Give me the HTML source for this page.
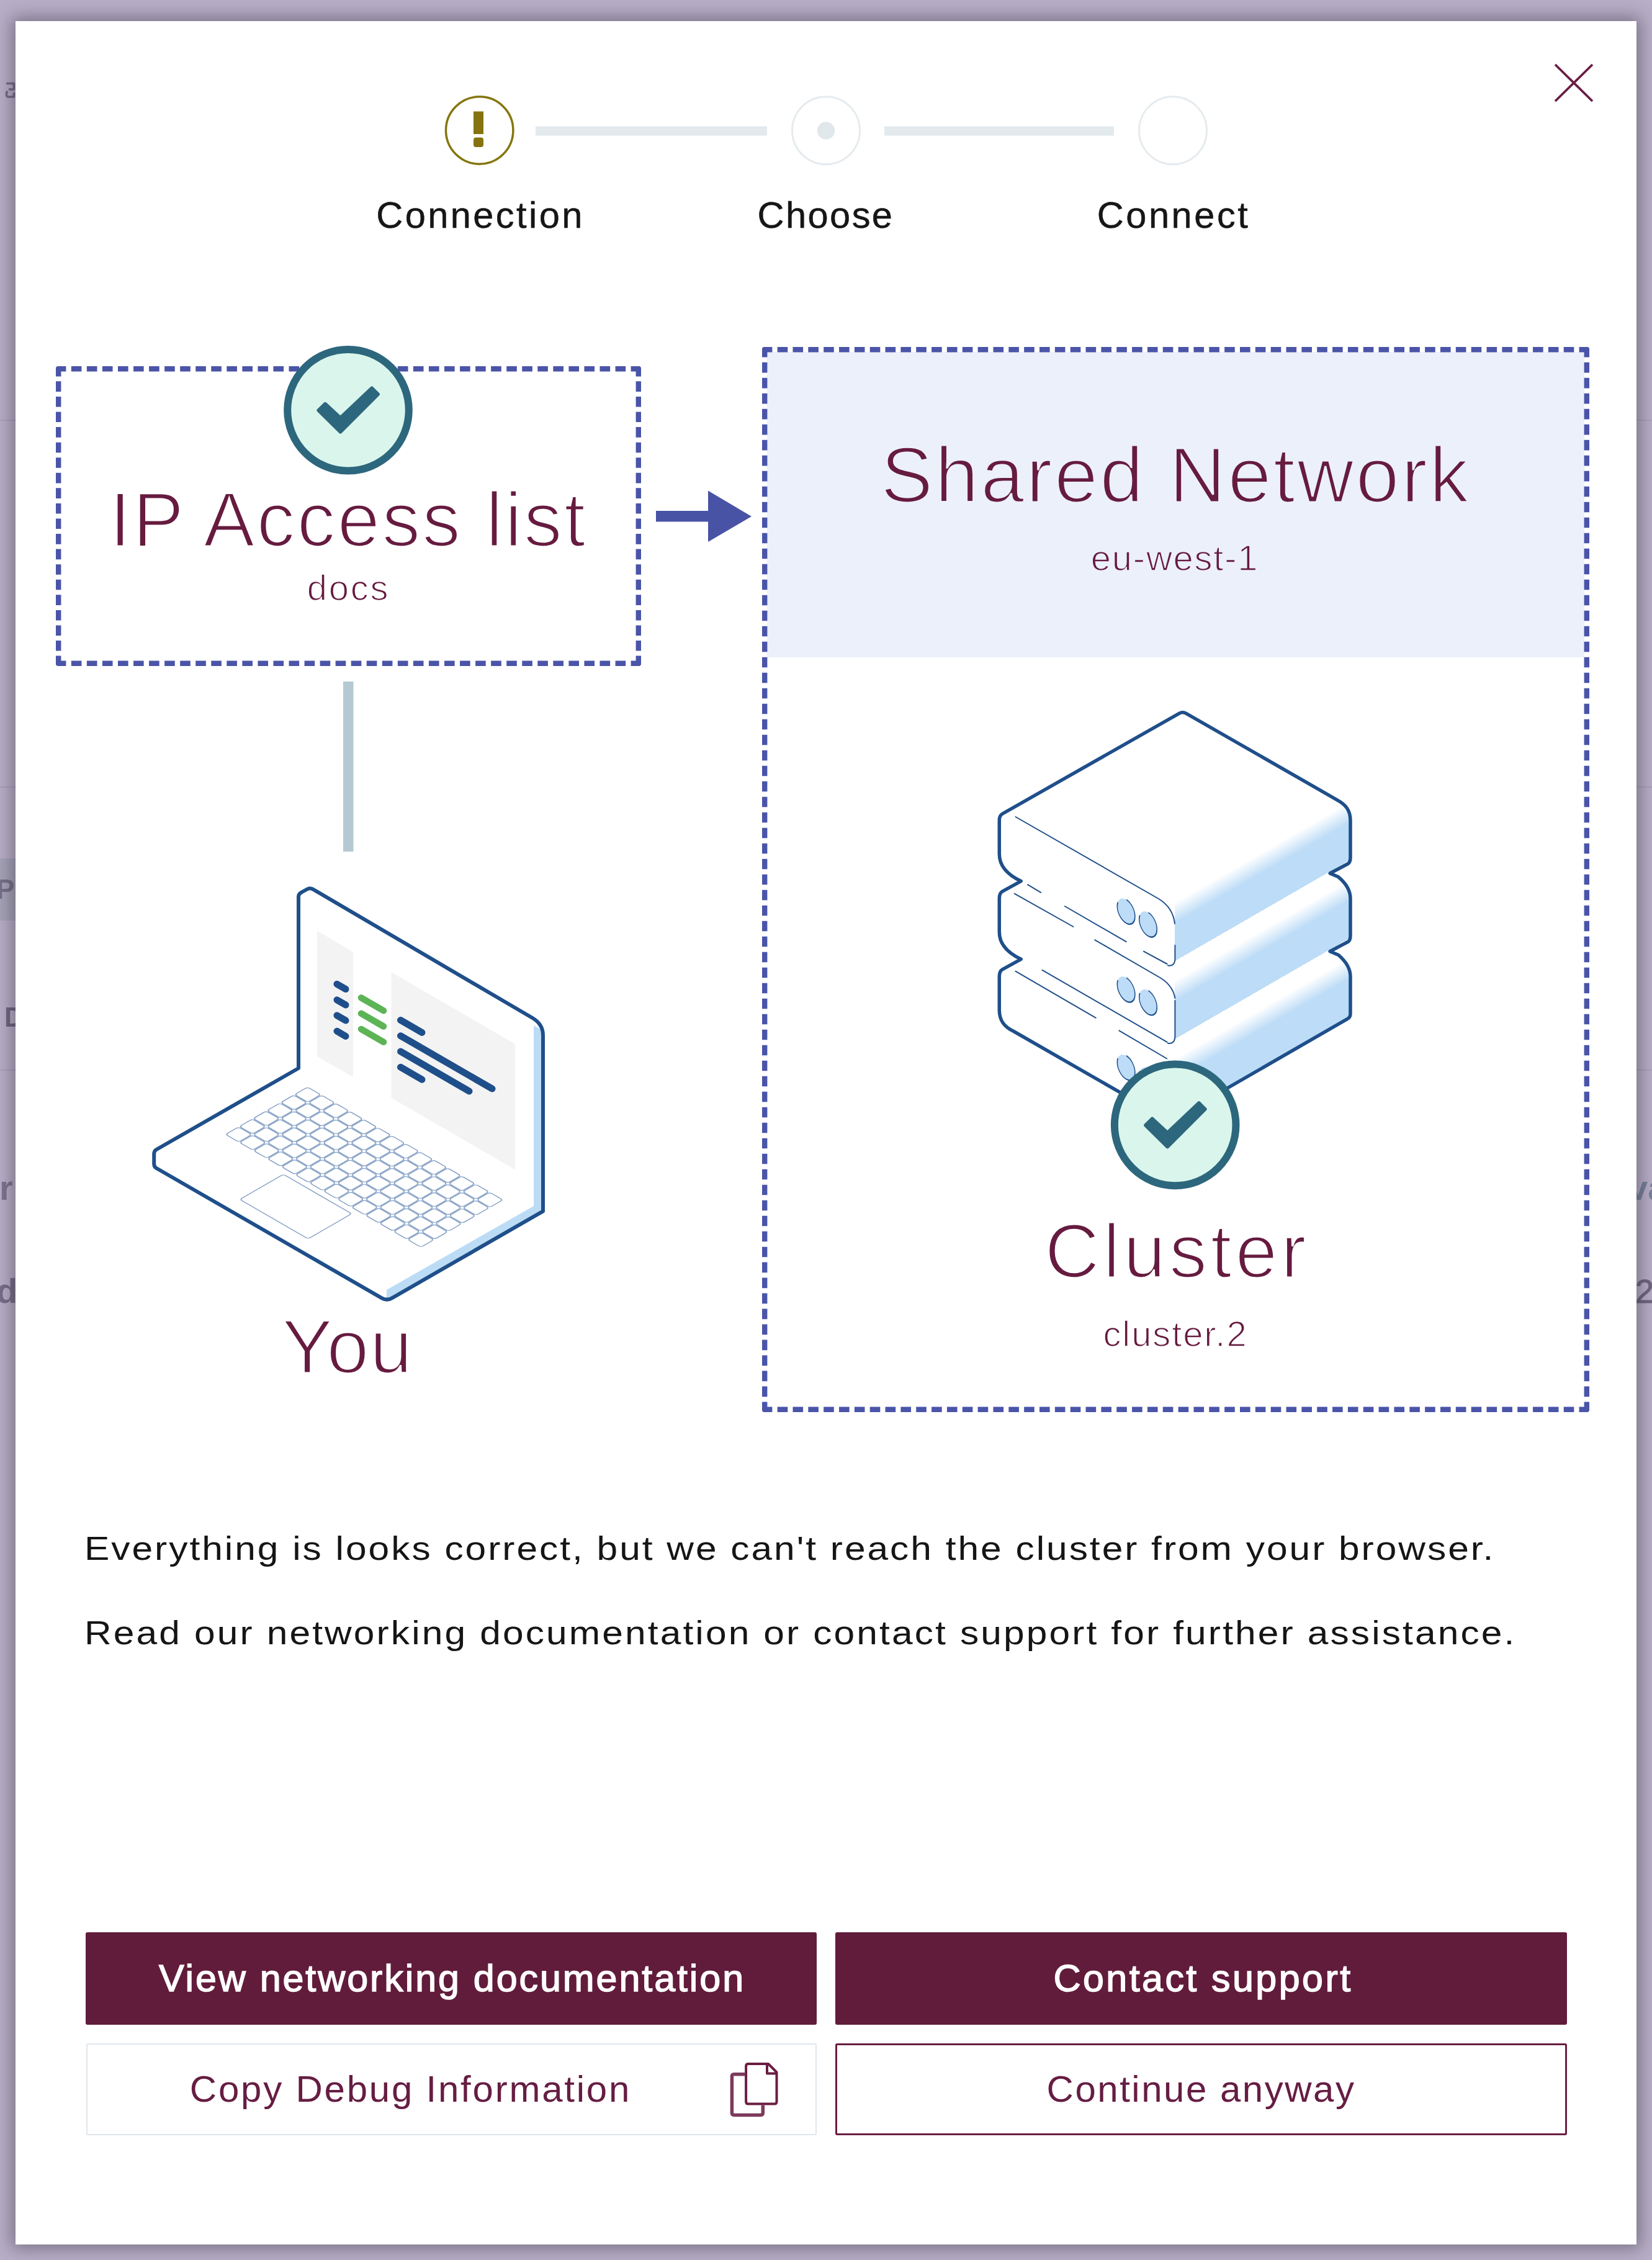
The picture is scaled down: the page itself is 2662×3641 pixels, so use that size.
<!DOCTYPE html>
<html><head><meta charset="utf-8"><style>
html,body{margin:0;padding:0;}
body{width:2662px;height:3641px;overflow:hidden;position:relative;background:#b8aec7;font-family:"Liberation Sans",sans-serif;}
.modal{position:absolute;left:25px;top:34px;width:2612px;height:3582px;background:#fff;box-shadow:0 0 26px 6px rgba(35,32,40,0.42);}
.t{position:absolute;white-space:nowrap;line-height:1;}
.c{transform:translateX(-50%);}
.step{font-size:59.6px;color:#161616;letter-spacing:2.4px;-webkit-text-stroke:0.5px #161616;}
.mar{color:#661b3f;}
.para{font-size:54px;color:#151515;letter-spacing:2.5px;left:136px;transform-origin:0 0;transform:scaleX(1.12);}
.btn{position:absolute;box-sizing:border-box;border-radius:3px;}
.bt{font-size:61px;font-weight:400;color:#fff;letter-spacing:0.2px;-webkit-text-stroke:1.5px #fff;}
.bt2{font-size:60px;color:#661d42;letter-spacing:2.2px;}
svg{position:absolute;left:0;top:0;}
</style></head><body>
<div style="position:absolute;left:0;top:1383px;width:30px;height:100px;background:#a6a3b8"></div>
<div style="position:absolute;left:0;top:676px;width:30px;height:2px;background:#aaa1b8"></div>
<div style="position:absolute;left:0;top:1267px;width:30px;height:2px;background:#aaa1b8"></div>
<div style="position:absolute;left:0;top:1723px;width:30px;height:2px;background:#aaa1b8"></div>
<div style="position:absolute;left:2630px;top:676px;width:32px;height:2px;background:#aaa1b8"></div>
<div style="position:absolute;left:2630px;top:1267px;width:32px;height:2px;background:#aaa1b8"></div>
<div style="position:absolute;left:2630px;top:1723px;width:32px;height:2px;background:#aaa1b8"></div>
<svg width="30" height="40" viewBox="0 120 30 40" style="position:absolute;left:0;top:120px"><path d="M10 134.5 L22.5 134.5 L22.5 145 M14 144 L22.5 144 M12.5 147 L10.5 149 L10.5 154 L12 156 L22.5 156 L22.5 149" fill="none" stroke="#756c86" stroke-width="3.6" stroke-linejoin="round" style="filter:blur(0.7px)"/></svg>
<div class="t" style="left:-6px;top:1411px;font-size:44px;font-weight:700;color:#77708a;filter:blur(0.6px)">P</div>
<div class="t" style="left:7px;top:1617px;font-size:44px;font-weight:700;color:#6f6680;filter:blur(0.6px)">D</div>
<div class="t" style="left:-1px;top:1886px;font-size:56px;font-weight:700;color:#7d7490;filter:blur(0.7px)">r</div>
<div class="t" style="left:-6px;top:2052px;font-size:56px;font-weight:700;color:#776e89;filter:blur(0.7px)">d</div>
<div class="t" style="left:2624px;top:1886px;font-size:56px;font-weight:700;color:#78809c;filter:blur(0.7px)">va</div>
<div class="t" style="left:2635px;top:2053px;font-size:54px;color:#6f6680;filter:blur(0.5px);-webkit-text-stroke:1px #6f6680">2</div>
<div class="modal"></div>
<svg width="2662" height="3641" viewBox="0 0 2662 3641">
  <defs>
    <linearGradient id="srvg" gradientUnits="userSpaceOnUse" x1="0" y1="1.6" x2="0" y2="127.3" spreadMethod="repeat" gradientTransform="skewY(-30)">
      <stop offset="0" stop-color="#ffffff"/>
      <stop offset="0.25" stop-color="#ffffff"/>
      <stop offset="0.52" stop-color="#bddcf7"/>
      <stop offset="1" stop-color="#bddcf7"/>
    </linearGradient>
  </defs>
  <!-- close X -->
  <path d="M2506 104 L2566 163 M2566 104 L2506 163" stroke="#6a1d42" stroke-width="3.8" fill="none"/>
  <!-- stepper -->
  <line x1="863" y1="211" x2="1236" y2="211" stroke="#e3eaee" stroke-width="15"/>
  <line x1="1425" y1="211" x2="1795" y2="211" stroke="#e3eaee" stroke-width="15"/>
  <circle cx="772.7" cy="210" r="54.2" fill="#fff" stroke="#86760f" stroke-width="3.5"/>
  <rect x="763" y="179.5" width="16" height="36.5" fill="#85730f"/>
  <rect x="763" y="221.5" width="16" height="15.5" rx="4" fill="#85730f"/>
  <circle cx="1331" cy="210.3" r="54.5" fill="#fff" stroke="#e5ebee" stroke-width="3"/>
  <circle cx="1331" cy="210.5" r="14.3" fill="#e1e8ec"/>
  <circle cx="1890" cy="210.3" r="54.5" fill="#fff" stroke="#e5ebee" stroke-width="3"/>

  <!-- left box -->
  <g fill="none" stroke="#4a54a8" stroke-width="8.4">
    <path d="M90.0 594.2 L1033.0 594.2" stroke-dasharray="16.6 8.449" stroke-dashoffset="0.20"/>
    <path d="M90.0 1068.8 L1033.0 1068.8" stroke-dasharray="16.6 8.449" stroke-dashoffset="0.20"/>
    <path d="M94.2 590.0 L94.2 1073.0" stroke-dasharray="16.6 7.968" stroke-dashoffset="0.20"/>
    <path d="M1028.8 590.0 L1028.8 1073.0" stroke-dasharray="16.6 7.968" stroke-dashoffset="0.20"/>
  </g>
  <!-- right box -->
  <rect x="1236" y="567" width="1317" height="492" fill="#ecf0fb"/>
  <g fill="none" stroke="#4a54a8" stroke-width="8.4">
    <path d="M1228.0 563.2 L2561.0 563.2" stroke-dasharray="16.6 8.245" stroke-dashoffset="0.20"/>
    <path d="M1228.0 2270.8 L2561.0 2270.8" stroke-dasharray="16.6 8.245" stroke-dashoffset="0.20"/>
    <path d="M1232.2 559.0 L1232.2 2275.0" stroke-dasharray="16.6 8.397" stroke-dashoffset="0.20"/>
    <path d="M2556.8 559.0 L2556.8 2275.0" stroke-dasharray="16.6 8.397" stroke-dashoffset="0.20"/>
  </g>
  <path d="M89.5 589.5 L94.5 589.5 A5 5 0 0 0 89.5 594.5 Z M1033.5 589.5 L1033.5 594.5 A5 5 0 0 0 1028.5 589.5 Z M1033.5 1073.5 L1028.5 1073.5 A5 5 0 0 0 1033.5 1068.5 Z M89.5 1073.5 L89.5 1068.5 A5 5 0 0 0 94.5 1073.5 Z M1227.5 558.5 L1232.5 558.5 A5 5 0 0 0 1227.5 563.5 Z M2561.5 558.5 L2561.5 563.5 A5 5 0 0 0 2556.5 558.5 Z M2561.5 2275.5 L2556.5 2275.5 A5 5 0 0 0 2561.5 2270.5 Z M1227.5 2275.5 L1227.5 2270.5 A5 5 0 0 0 1232.5 2275.5 Z" fill="#fff"/>
  <!-- arrow -->
  <rect x="1057" y="823" width="86" height="17.5" fill="#4853a6"/>
  <path d="M1141 790.6 L1211 832 L1141 873 Z" fill="#4853a6"/>
  <!-- connector -->
  <rect x="553" y="1098" width="16.5" height="274" fill="#b5c9d2"/>

  <!-- check 1 -->
  <g transform="translate(561,660.7)">
    <circle r="97.8" fill="#daf6ec" stroke="#2d677d" stroke-width="12"/>
    <path d="M-47.5 0.5 L-37.1 -9.9 L-12.5 12.8 L38.2 -35.2 L47.9 -25.5 L-12.5 34.9 Z" fill="#2d677d" stroke="#2d677d" stroke-width="6" stroke-linejoin="round"/>
  </g>

  <!-- LAPTOP -->
  <g id="laptop">
    <path d="M481 1721 L481 1445 Q481 1440 486 1437.5 L495 1432.5 Q499.3 1430 504 1432.5 L858 1640 Q875 1650 875 1668 L875 1951.4 L631.5 2091.3 Q623.4 2096 615.3 2091.3 L252 1882 Q248.2 1879.8 248.2 1875 L248.2 1859 Q248.2 1854.3 252 1852 Z" fill="#fff"/>
    <polygon points="860,1652 872,1659 872,1950 623,2093 623,2078 860,1943" fill="#bcdcf6"/>
    <polygon points="511,1499.6 569,1534 569,1735.3 511,1702" fill="#f3f3f3"/>
    <polygon points="630.5,1566.3 830.2,1682 830.2,1884.5 630.5,1768.6" fill="#f3f3f3"/>
    <g stroke="#1f4f8a" stroke-width="11" stroke-linecap="round">
      <line x1="543" y1="1585.4" x2="557" y2="1593.6"/>
      <line x1="543" y1="1610.9" x2="557" y2="1619.1"/>
      <line x1="543" y1="1635.9" x2="557" y2="1644.1"/>
      <line x1="543" y1="1661.2" x2="557" y2="1669.3999999999999"/>
      <line x1="645.5" y1="1643.5" x2="680" y2="1663.5"/>
      <line x1="645.5" y1="1668.8" x2="793" y2="1754"/>
      <line x1="645.5" y1="1694" x2="756" y2="1758"/>
      <line x1="645.5" y1="1719.3" x2="680" y2="1739.3"/>
    </g>
    <g stroke="#5cb455" stroke-width="10.5" stroke-linecap="round">
      <line x1="582" y1="1607.5" x2="618" y2="1628.3"/>
      <line x1="582" y1="1632.8" x2="618" y2="1653.6"/>
      <line x1="582" y1="1658" x2="618" y2="1678.8"/>
    </g>
    <!-- keyboard -->
    <g transform="matrix(0.866 0.5 -0.866 0.5 495.6 1750.4)" fill="none" stroke="#86a1c6" stroke-width="1.7">
      <g id="krow"><rect x="1.0" y="1" width="24.4" height="24" rx="4"/><rect x="27.07" y="1" width="24.4" height="24" rx="4"/><rect x="53.14" y="1" width="24.4" height="24" rx="4"/><rect x="79.21" y="1" width="24.4" height="24" rx="4"/><rect x="105.28" y="1" width="24.4" height="24" rx="4"/><rect x="131.35" y="1" width="24.4" height="24" rx="4"/><rect x="157.42" y="1" width="24.4" height="24" rx="4"/><rect x="183.49" y="1" width="24.4" height="24" rx="4"/><rect x="209.56" y="1" width="24.4" height="24" rx="4"/><rect x="235.63" y="1" width="24.4" height="24" rx="4"/><rect x="261.7" y="1" width="24.4" height="24" rx="4"/><rect x="287.77" y="1" width="24.4" height="24" rx="4"/><rect x="313.84" y="1" width="24.4" height="24" rx="4"/><rect x="339.91" y="1" width="24.4" height="24" rx="4"/></g>
      <use href="#krow" y="25.7"/><use href="#krow" y="51.4"/><use href="#krow" y="77.1"/><use href="#krow" y="102.8"/><use href="#krow" y="128.5"/>
      <rect x="119" y="164" width="127" height="81" rx="4"/>
    </g>
    <path d="M481 1721 L481 1445 Q481 1440 486 1437.5 L495 1432.5 Q499.3 1430 504 1432.5 L858 1640 Q875 1650 875 1668 L875 1951.4 L631.5 2091.3 Q623.4 2096 615.3 2091.3 L252 1882 Q248.2 1879.8 248.2 1875 L248.2 1859 Q248.2 1854.3 252 1852 Z" fill="none" stroke="#1f4f8a" stroke-width="6" stroke-linejoin="round"/>
  </g>

  <!-- SERVER -->
  <g id="server">
    <clipPath id="silc"><path id="silp" d="M1911.3 1149.3 Q1905.7 1146.1 1900.1 1149.3 L1615.2 1311.1 Q1610.3 1314 1610.3 1321.8 L1610.3 1376 C1610.3 1396 1625 1410 1645.2 1419.6 L1615.2 1436.1 Q1610.3 1439 1610.3 1447.5 L1610.3 1501.7 C1610.3 1521.7 1625 1535.7 1645.2 1545.3 L1615.2 1561.8 Q1610.3 1564.7 1610.3 1573.2 L1610.3 1627.4 C1610.3 1646 1620 1655 1632.5 1661 L1880 1803 Q1885.5 1806.5 1891 1803 L2171 1641.7 Q2176 1638.8 2176 1633.2 L2176 1573.2 C2176 1561 2170 1550 2156.7 1538.5 L2143.1 1532.7 L2172.2 1517.2 Q2176 1515 2176 1507.5 L2176 1447.5 C2176 1435 2170 1424 2156.7 1412.8 L2143.1 1407 L2172.2 1391.5 Q2176 1389 2176 1381.8 L2176 1321.8 C2176 1305 2168 1296 2154.7 1288.8 Z"/></clipPath>
    <use href="#silp" fill="#fff"/>
    <g clip-path="url(#silc)">
      <polygon points="1893,1423.3 2180,1257.7 2180,1900 1893,1900" fill="url(#srvg)"/>
    </g>

    <use href="#silp" fill="none" stroke="#1f4f8a" stroke-width="5.5" stroke-linejoin="round"/>
    <!-- thin lines box edges -->
    <g fill="none" stroke="#1f4f8a" stroke-width="2" stroke-linecap="round">
      <g id="bx1">
        <path d="M1636.5 1316 L1867 1448 Q1890 1462 1893 1488"/>
        <path d="M1893.4 1523 L1893.4 1545 Q1893 1557 1882 1555.6"/>
        <path d="M1842.8 1532.7 L1880.6 1553"/>
        <path d="M1715.9 1460 L1814.7 1517.2"/>
        <path d="M1655.9 1425.2 L1677.2 1437.8"/>
      </g>
      <path d="M1634.6 1439.7 L1729.5 1493"/>
      <path d="M1764.3 1514.3 L1870 1575.5 Q1890 1588 1893.4 1608"/>
      <path d="M1893.4 1612 L1893.4 1670 Q1893 1682 1882 1681"/>
      <path d="M1679.5 1562.9 L1880.6 1678.9"/>
      <path d="M1636.3 1564.7 L1765.8 1639.8"/>
      <path d="M1803.3 1660.4 L1880.2 1705.5"/>
    </g>
    <!-- LEDs -->
    <g fill="#bddcf7" stroke="#1f4f8a" stroke-width="1.8" stroke-dasharray="57.6 20.2 26 0">
      <ellipse cx="0" cy="0" rx="16.5" ry="16.5" transform="matrix(0.866 0.5 0 1.15 1814.6 1468.2)"/>
      <ellipse cx="0" cy="0" rx="16.5" ry="16.5" transform="matrix(0.866 0.5 0 1.15 1850 1489)"/>
      <ellipse cx="0" cy="0" rx="16.5" ry="16.5" transform="matrix(0.866 0.5 0 1.15 1814.6 1593.9)"/>
      <ellipse cx="0" cy="0" rx="16.5" ry="16.5" transform="matrix(0.866 0.5 0 1.15 1850 1614.7)"/>
      <ellipse cx="0" cy="0" rx="16.5" ry="16.5" transform="matrix(0.866 0.5 0 1.15 1814.6 1719.6)"/>
      <ellipse cx="0" cy="0" rx="16.5" ry="16.5" transform="matrix(0.866 0.5 0 1.15 1850 1740.4)"/>
    </g>
  </g>
  <!-- check 2 -->
  <g transform="translate(1893.7,1812.4)">
    <circle r="97.8" fill="#daf6ec" stroke="#2d677d" stroke-width="12"/>
    <path d="M-47.5 0.5 L-37.1 -9.9 L-12.5 12.8 L38.2 -35.2 L47.9 -25.5 L-12.5 34.9 Z" fill="#2d677d" stroke="#2d677d" stroke-width="6" stroke-linejoin="round"/>
  </g>

</svg>

<!-- texts -->
<div class="t step c" style="left:774px;top:317px;letter-spacing:3.4px">Connection</div>
<div class="t step c" style="left:1330.5px;top:317px">Choose</div>
<div class="t step c" style="left:1891px;top:317px;letter-spacing:3.5px">Connect</div>

<div class="t mar c" style="left:561.5px;top:776px;font-size:123.5px;letter-spacing:3.2px;-webkit-text-stroke:3.2px #fff">IP Access list</div>
<div class="t mar c" style="left:561.5px;top:918px;font-size:58px;letter-spacing:2.7px;-webkit-text-stroke:1.5px #fff">docs</div>
<div class="t mar c" style="left:1894.5px;top:703px;font-size:126px;letter-spacing:3.35px;-webkit-text-stroke:3.2px #ecf0fb">Shared Network</div>
<div class="t mar c" style="left:1893px;top:869.5px;font-size:58px;letter-spacing:1.75px;-webkit-text-stroke:1.5px #ecf0fb">eu-west-1</div>
<div class="t mar c" style="left:560px;top:2109px;font-size:122.7px;letter-spacing:1.5px;-webkit-text-stroke:3.2px #fff">You</div>
<div class="t mar c" style="left:1897px;top:1955px;font-size:122px;letter-spacing:5.8px;-webkit-text-stroke:3.2px #fff">Cluster</div>
<div class="t mar c" style="left:1894px;top:2120px;font-size:58px;letter-spacing:1.9px;-webkit-text-stroke:1.5px #fff">cluster.2</div>

<div class="t para" style="top:2467px;letter-spacing:2.65px">Everything is looks correct, but we can't reach the cluster from your browser.</div>
<div class="t para" style="top:2603px;letter-spacing:2.78px">Read our networking documentation or contact support for further assistance.</div>

<div class="btn" style="left:138px;top:3113px;width:1178px;height:149px;background:#621c3b"></div>
<div class="btn" style="left:1346px;top:3113px;width:1179px;height:149px;background:#621c3b"></div>
<div class="btn" style="left:139px;top:3292px;width:1177px;height:148px;border:2px solid #dfe7ec;background:#fff"></div>
<div class="btn" style="left:1346px;top:3292px;width:1179px;height:148px;border:3px solid #6a1d42;background:#fff"></div>

<div class="t bt c" style="left:728.5px;top:3157px;letter-spacing:2.93px">View networking documentation</div>
<div class="t bt c" style="left:1938.5px;top:3157px;letter-spacing:3.43px">Contact support</div>
<div class="t bt2 c" style="left:661.5px;top:3336px;letter-spacing:2.77px">Copy Debug Information</div>
<div class="t bt2 c" style="left:1935.5px;top:3336px;letter-spacing:2.5px">Continue anyway</div>

<svg width="2662" height="3641" viewBox="0 0 2662 3641" style="pointer-events:none">
  <!-- copy icon -->
  <g fill="none" stroke-linejoin="round">
    <path d="M1200 3341.7 L1183 3341.7 Q1179.4 3341.7 1179.4 3345.3 L1179.4 3403.8 Q1179.4 3407.4 1183 3407.4 L1225.7 3407.4 Q1229.3 3407.4 1229.3 3403.8 L1229.3 3391.4" stroke="#7c3a5c" stroke-width="5.5"/>
    <path d="M1202.1 3328.6 Q1202.1 3325 1205.7 3325 L1238 3325 L1251.5 3338.5 L1251.5 3386 Q1251.5 3389.6 1247.9 3389.6 L1205.7 3389.6 Q1202.1 3389.6 1202.1 3386 Z" stroke="#6a1d42" stroke-width="4"/>
    <path d="M1236 3325 L1236 3340.6 L1251.5 3340.6" stroke="#6a1d42" stroke-width="4"/>
  </g>
</svg>
</body></html>
